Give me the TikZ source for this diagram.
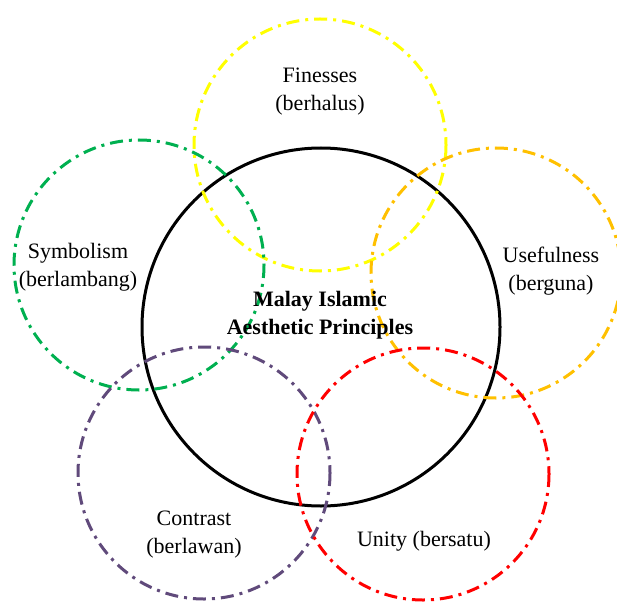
\documentclass[tikz,border=0pt]{standalone}
\usepackage{fontspec}
\setmainfont{Liberation Serif}
\definecolor{amarillo}{RGB}{255,255,0}
\definecolor{verde}{RGB}{0,176,80}
\definecolor{naranja}{RGB}{255,192,0}
\definecolor{morado}{RGB}{96,74,123}
\definecolor{rojo}{RGB}{255,0,0}
\tikzset{
	principio/.style={line width=3pt, dash pattern=on 13pt off 6pt on 3pt off 6pt},
	etiqueta/.style={align=center, font=\fontsize{22}{28}\selectfont, inner sep=0pt}
}
\begin{document}
\begin{tikzpicture}[x=1pt, y=-1pt]
	\useasboundingbox (0,0) rectangle (617,601);
	% Círculo central
		\draw [black, line width=3pt] (321,327) circle[radius=179];
		
	% Círculos de los principios
		\draw [principio, amarillo] (320,145) circle[radius=126];
		\draw [principio, verde] (139,265) circle[radius=125];
		\draw [principio, naranja] (496,273) circle[radius=125];
		\draw [principio, morado] (204,473) circle[radius=126];
		\draw [principio, rojo] (423,474) circle[radius=126];
	
	% Textos
		\node [etiqueta, font=\bfseries\fontsize{22}{28}\selectfont] (centro) at (320,315) {Malay Islamic\\Aesthetic Principles};
		\node [etiqueta] (finesses) at (320,92) {Finesses\\(berhalus)};
		\node [etiqueta] (symbolism) at (78,267) {Symbolism\\(berlambang)};
		\node [etiqueta] (usefulness) at (551,271) {Usefulness\\(berguna)};
		\node [etiqueta] (contrast) at (194,535) {Contrast\\(berlawan)};
		\node [etiqueta] (unity) at (424,541) {Unity (bersatu)};
\end{tikzpicture}
\end{document}
